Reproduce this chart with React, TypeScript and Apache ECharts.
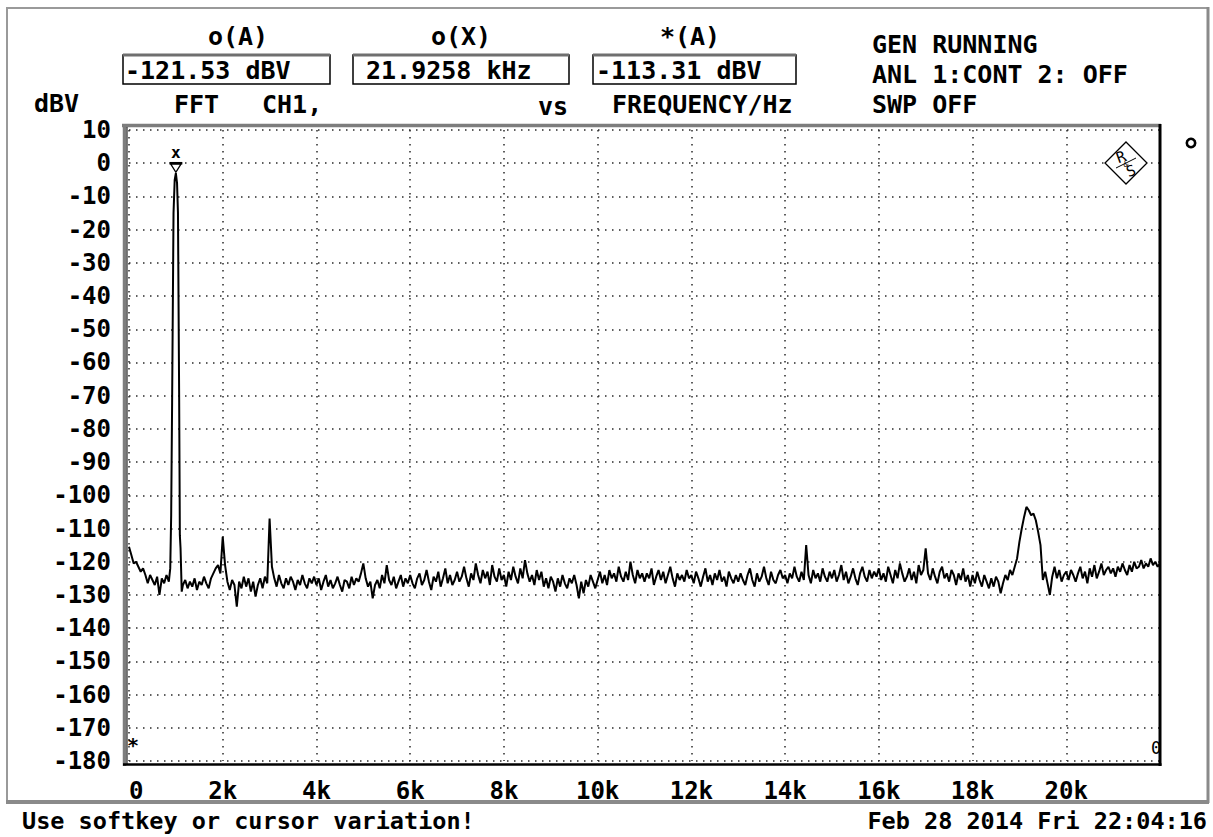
import React, { useEffect, useRef } from 'react';
import * as echarts from 'echarts';

// ---------- data ----------
const X_MAX_HZ = 22000;
const X_TICK_HZ = 2000;
const xTickLabels = ['0', '2k', '4k', '6k', '8k', '10k', '12k', '14k', '16k', '18k', '20k', ''];
const Y_MIN = -180;
const Y_MAX = 10;
const Y_STEP = 10;

const BIN_HZ = 50;
// noise floor 0 .. 850 Hz (dBV)
const floorLowStartHz = 0;
const floorLow = [-115.5, -118, -120.5, -120, -121.5, -123, -122, -124, -126.5, -124, -125.5, -127, -124.5, -130, -125, -126.5, -124, -126];
// 1 kHz fundamental
const peak: [number, number][] = [
  [880, -122], [900, -106], [920, -72], [950, -15], [975, -5], [1000, -3],
  [1025, -6], [1045, -15], [1070, -70], [1085, -112], [1100, -116], [1125, -129],
];
// noise floor 1150 .. 22000 Hz (dBV)
const floorHighStartHz = 1150;
const floorHigh = [
  -127, -125.5, -128, -126, -127.5, -125, -128.5, -126, -127, -124.5, -126.5, -128, -125, -123.5, -122, -121, -123.5,
  -112.5, -121, -126, -128.5, -125.5, -127, -133.5, -126, -128, -124.5, -127.5, -125, -129, -126, -130.5, -127, -125, -128, -124.5, -126.5,
  -107, -121.5, -125, -127.5, -124, -126.5, -128, -125, -127, -124.5, -126, -128.5, -125.5, -127, -124, -126.5, -128, -125, -126.5, -124.5,
  -127, -125, -128.5, -126, -124, -127.5, -125.5, -128, -126.5, -124.5, -127, -129, -125.5, -126, -128, -124.5, -127, -125, -126, -123.5,
  -120.5, -125, -127.5, -126, -131, -127, -125.5, -128, -124, -126.5, -121, -125.5, -127, -124.5, -128, -126, -124, -127.5, -125, -126.5,
  -124, -126.5, -128, -125, -123.5, -127, -125.5, -122.5, -126, -128.5, -124.5, -126, -123, -127.5, -125, -122, -126.5, -124, -127, -125.5,
  -123, -126, -124.5, -121.5, -125, -127.5, -123.5, -125.5, -120.5, -124, -126.5, -122.5, -125, -123, -127, -121, -124.5, -126, -122, -125.5,
  -124, -127.5, -123, -125.5, -121.5, -124.5, -126.5, -122, -125, -119.5, -123.5, -126, -124, -127, -122.5, -125.5, -123, -127.5, -125, -128,
  -124.5, -126, -129, -125, -127.5, -124, -126.5, -128, -125, -126.5, -124, -127, -131, -126, -129.5, -125.5, -127.5, -124, -126, -128,
  -125.5, -123, -126.5, -124, -127, -122.5, -125, -123.5, -126, -121.5, -124.5, -126, -123, -125.5, -120, -124, -126.5, -122.5, -125, -123.5,
  -126, -123.5, -125, -122, -127, -124.5, -122.5, -125.5, -123, -126.5, -124, -121.5, -125, -127.5, -123.5, -125.5, -124, -126, -122.5, -125,
  -124, -126.5, -123, -125, -127.5, -124.5, -122, -126, -124, -127, -123.5, -125.5, -122.5, -126, -124.5, -127.5, -123, -125, -126.5, -124,
  -126, -123.5, -125.5, -127, -124, -122, -125.5, -127.5, -123.5, -126, -124.5, -121.5, -125, -127, -123, -125.5, -126.5, -124, -122.5, -125,
  -124, -126.5, -123.5, -125, -121.5, -124.5, -126, -123, -125.5, -115, -124, -126.5, -122.5, -125, -123.5, -126, -122, -124.5, -126, -123,
  -125, -122.5, -126, -124, -121, -125.5, -123, -126.5, -124.5, -122, -125, -127, -123.5, -121.5, -124.5, -126, -122.5, -125, -123, -124.5,
  -122, -125.5, -123.5, -126, -121.5, -124, -126.5, -122.5, -125, -120.5, -123.5, -126, -124.5, -122, -125.5, -123, -126.5, -121, -124, -122.5,
  -116, -123.5, -125.5, -122, -124.5, -126.5, -123, -121.5, -125, -123.5, -126, -122.5, -124, -127, -123.5, -125.5, -122, -126, -124, -127.5,
  -124, -126.5, -123, -125.5, -127.5, -124, -126, -128, -125, -127.5, -124.5, -126, -129.5, -126.5, -124, -125.5, -122.5, -124, -121.5, -119,
  -114, -110, -106.5, -103.5, -104.5, -106, -105.5, -107.5, -111, -115, -125.5, -123, -126.5, -130, -124.5, -121.5, -125, -122.5, -126, -124,
  -123, -125.5, -122.5, -124, -126, -123.5, -121.5, -125, -123, -126.5, -122, -124.5, -121, -125, -123, -120.5, -124, -122.5, -121.5, -123.5,
  -122, -124.5, -121.5, -123, -120.5, -122.5, -124, -121, -123, -120, -122, -121.5, -119.5, -122, -120.5, -121.5, -119, -121, -120, -121.5, -120.5,
];

const cursorLabels = ['o(A)', 'o(X)', '*(A)'];
const cursorValues = ['-121.53 dBV', '21.9258 kHz', '-113.31 dBV'];
const statusLines = ['GEN RUNNING', 'ANL 1:CONT 2: OFF', 'SWP OFF'];
const yUnit = 'dBV';
const measureTexts = ['FFT', 'CH1,', 'vs', 'FREQUENCY/Hz'];
const footerLeft = 'Use softkey or cursor variation!';
const footerRight = 'Feb 28 2014 Fri 22:04:16';

// ---------- layout ----------
const FONT = '"DejaVu Sans Mono", "Liberation Mono", monospace';
const GRID = { left: 129, top: 130, width: 1031, height: 631 };

function txt(x: number, y: number, text: string, size = 25, align = 'left', weight = 'bold', extra: any = {}) {
  return {
    type: 'text',
    x,
    y,
    z: 100,
    ...extra,
    style: {
      text,
      fill: '#000',
      fontFamily: FONT,
      fontSize: size,
      fontWeight: weight,
      align,
      textAlign: align,
      verticalAlign: 'middle',
      textVerticalAlign: 'middle',
    },
  };
}
function ln(x1: number, y1: number, x2: number, y2: number, stroke: string, lineWidth: number) {
  return { type: 'line', z: 100, shape: { x1, y1, x2, y2 }, style: { stroke, lineWidth } };
}

export default function App() {
  const ref = useRef<HTMLDivElement>(null);

  useEffect(() => {
    if (!ref.current) return;
    const chart = echarts.init(ref.current, undefined, { renderer: 'svg' });

    const trace: [number, number][] = [
      ...floorLow.map((v, i) => [floorLowStartHz + i * BIN_HZ, v] as [number, number]),
      ...peak,
      ...floorHigh.map((v, i) => [floorHighStartHz + i * BIN_HZ, v] as [number, number]),
    ];

    const boxes = [
      { x: 123, w: 207, tx: 125 },
      { x: 353, w: 216, tx: 366 },
      { x: 593, w: 203, tx: 596 },
    ];
    const labelCenters = [238, 461, 690];

    const graphic: any[] = [
      // outer screen frame
      ln(7, 8, 1208, 8, '#9a9a9a', 2),
      ln(7, 7, 7, 803, '#9a9a9a', 2),
      ln(1208, 7, 1208, 803, '#8a8a8a', 3),
      ln(6, 802, 1209, 802, '#8a8a8a', 4),
      // plot frame
      ln(122, 125.5, 1161, 125.5, '#7d7d7d', 3.5),
      ln(124.5, 124, 124.5, 766, '#7d7d7d', 3.5),
      ln(127, 127, 127, 764, '#000', 1),
      ln(1160, 124, 1160, 766, '#000', 3),
      ln(123, 764.5, 1161.5, 764.5, '#000', 2.5),
      // header
      ...cursorLabels.map((t, i) => txt(labelCenters[i], 36, t, 25, 'center')),
      ...boxes.map((b) => ({ type: 'rect', z: 100, shape: { x: b.x, y: 55, width: b.w, height: 29 }, style: { fill: '#fff', stroke: '#000', lineWidth: 1.5 } })),
      ...boxes.map((b) => ln(b.x, 55, b.x + b.w, 55, '#6f6f6f', 3)),
      ...boxes.map((b, i) => txt(b.tx, 70, cursorValues[i], 25, 'left', 'bold', { z: 101 })),
      txt(872, 44, statusLines[0]),
      txt(872, 74, statusLines[1]),
      txt(872, 104, statusLines[2]),
      txt(34, 103, yUnit),
      txt(174, 104, measureTexts[0]),
      txt(262, 104, measureTexts[1]),
      txt(538, 106, measureTexts[2]),
      txt(612, 104, measureTexts[3]),
      // cursor markers
      txt(133, 745, '*', 20, 'center'),
      txt(1156, 748, '0', 17, 'center', 'normal'),
      // R&S logo
      { type: 'polygon', z: 100, shape: { points: [[1126, 142], [1147, 163], [1126, 184], [1105, 163]] }, style: { fill: '#fff', stroke: '#000', lineWidth: 1.3 } },
      txt(1121, 157, 'R', 15, 'center', 'normal', { rotation: 0.35 }),
      txt(1126, 164, '&', 8, 'center', 'normal'),
      txt(1131, 171, 'S', 15, 'center', 'normal', { rotation: 0.35 }),
      ln(1116, 168, 1136, 158, '#000', 1),
      // knob mark
      { type: 'circle', z: 100, shape: { cx: 1191, cy: 143, r: 4.2 }, style: { fill: '#fff', stroke: '#000', lineWidth: 2.6 } },
      // footer
      txt(22, 821, footerLeft, 23.5, 'left'),
      txt(1207, 821, footerRight, 23.5, 'right'),
    ];

    const gridLine = { show: true, lineStyle: { color: '#2a2a2a', width: 1.5, type: [1.5, 5.5] as any } };

    chart.setOption({
      animation: false,
      backgroundColor: '#ffffff',
      grid: { ...GRID, containLabel: false },
      xAxis: {
        type: 'value',
        min: 0,
        max: X_MAX_HZ,
        interval: X_TICK_HZ,
        axisLine: { show: false },
        axisTick: { show: false },
        splitLine: gridLine,
        axisLabel: {
          formatter: (v: number) => xTickLabels[Math.round(v / X_TICK_HZ)] ?? '',
          fontFamily: FONT,
          fontWeight: 'bold',
          fontSize: 24,
          lineHeight: 24,
          color: '#000',
          margin: 18,
          alignMinLabel: 'left',
        },
      },
      yAxis: {
        type: 'value',
        min: Y_MIN,
        max: Y_MAX,
        interval: Y_STEP,
        axisLine: { show: false },
        axisTick: { show: false },
        splitLine: gridLine,
        axisLabel: {
          fontFamily: FONT,
          fontWeight: 'bold',
          fontSize: 24,
          color: '#000',
          margin: 18,
        },
      },
      series: [
        {
          type: 'line',
          data: trace,
          symbol: 'none',
          showSymbol: false,
          silent: true,
          lineStyle: { color: '#000', width: 2 },
          markPoint: {
            silent: true,
            data: [
              { coord: [1000, 0], symbol: 'rect', symbolSize: [13, 2.5], itemStyle: { color: '#000' }, label: { show: false } },
              { coord: [1000, 0], symbol: 'triangle', symbolRotate: 180, symbolSize: [10, 8], symbolOffset: [0, 5], itemStyle: { color: '#fff', borderColor: '#000', borderWidth: 1.2 }, label: { show: false } },
              { coord: [1000, 0], symbol: 'circle', symbolSize: 1, itemStyle: { color: 'rgba(0,0,0,0)' }, label: { show: true, formatter: 'x', position: 'inside', offset: [0, -11], fontSize: 16, fontWeight: 'bold', fontFamily: FONT, color: '#000' } },
            ],
          },
        },
      ],
      graphic,
    });

    return () => chart.dispose();
  }, []);

  return <div ref={ref} style={{ position: 'fixed', left: 0, top: 0, width: 1213, height: 837, background: '#fff' }} />;
}
